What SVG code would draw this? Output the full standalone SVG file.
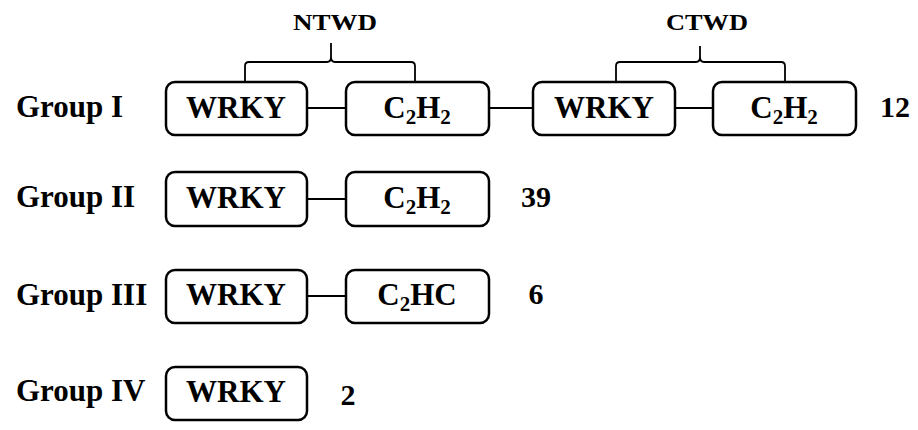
<svg xmlns="http://www.w3.org/2000/svg" width="918" height="430" viewBox="0 0 918 430">
<style>
text{font-family:"Liberation Serif","Times New Roman",serif;font-weight:bold;fill:#000}
.box{fill:#fff;stroke:#000;stroke-width:2.5}
.lbl{font-size:31px}
.dom{font-size:31px;text-anchor:middle}
.num{font-size:30px;text-anchor:middle}
.hd{font-size:23px;text-anchor:middle}
.sub{font-size:21px}
.ln{stroke:#000;stroke-width:1.8;fill:none}
</style>
<rect width="918" height="430" fill="#fff"/>
<g id="connectors">
<line class="ln" x1="307" y1="108" x2="346" y2="108"/>
<line class="ln" x1="489" y1="108" x2="533" y2="108"/>
<line class="ln" x1="675" y1="108" x2="713" y2="108"/>
<line class="ln" x1="307" y1="199" x2="346" y2="199"/>
<line class="ln" x1="307" y1="296" x2="346" y2="296"/>
<path class="ln" d="M245,82 V66 Q245,62 249,62 H327 Q331,62 331,57 V43 M331,57 Q331,62 335,62 H411 Q415,62 415,66 V82"/>
<path class="ln" d="M616,82 V66 Q616,62 620,62 H696 Q700,62 700,57 V46 M700,57 Q700,62 704,62 H781 Q785,62 785,66 V82"/>
</g>
<g id="ntwd"><text class="hd" x="335" y="30" textLength="84" lengthAdjust="spacingAndGlyphs">NTWD</text></g>
<g id="ctwd"><text class="hd" x="707" y="30" textLength="82" lengthAdjust="spacingAndGlyphs">CTWD</text></g>
<g id="group1">
<text class="lbl" x="16" y="117">Group I</text>
<g id="g1-wrky1"><rect class="box" x="166" y="82" width="141" height="53" rx="9"/><text class="dom" x="236" y="118">WRKY</text></g>
<g id="g1-c2h2a"><rect class="box" x="346" y="82" width="143" height="53" rx="9"/><text class="dom" x="417" y="118">C<tspan class="sub" dy="6">2</tspan><tspan dy="-6">H</tspan><tspan class="sub" dy="6">2</tspan></text></g>
<g id="g1-wrky2"><rect class="box" x="533" y="82" width="142" height="53" rx="9"/><text class="dom" x="604" y="118">WRKY</text></g>
<g id="g1-c2h2b"><rect class="box" x="713" y="82" width="143" height="53" rx="9"/><text class="dom" x="784" y="118">C<tspan class="sub" dy="6">2</tspan><tspan dy="-6">H</tspan><tspan class="sub" dy="6">2</tspan></text></g>
<text class="num" x="895" y="117">12</text>
</g>
<g id="group2">
<text class="lbl" x="16" y="207">Group II</text>
<g id="g2-wrky"><rect class="box" x="166" y="172" width="141" height="54" rx="9"/><text class="dom" x="236" y="208">WRKY</text></g>
<g id="g2-c2h2"><rect class="box" x="346" y="172" width="143" height="54" rx="9"/><text class="dom" x="417" y="208">C<tspan class="sub" dy="6">2</tspan><tspan dy="-6">H</tspan><tspan class="sub" dy="6">2</tspan></text></g>
<text class="num" x="536" y="207">39</text>
</g>
<g id="group3">
<text class="lbl" x="16" y="305">Group III</text>
<g id="g3-wrky"><rect class="box" x="166" y="270" width="141" height="53" rx="9"/><text class="dom" x="236" y="305">WRKY</text></g>
<g id="g3-c2hc"><rect class="box" x="346" y="270" width="143" height="53" rx="9"/><text class="dom" x="417" y="305">C<tspan class="sub" dy="6">2</tspan><tspan dy="-6">HC</tspan></text></g>
<text class="num" x="536" y="304">6</text>
</g>
<g id="group4">
<text class="lbl" x="16" y="401">Group IV</text>
<g id="g4-wrky"><rect class="box" x="166" y="367" width="141" height="53" rx="9"/><text class="dom" x="236" y="402">WRKY</text></g>
<text class="num" x="348" y="405">2</text>
</g>
</svg>
